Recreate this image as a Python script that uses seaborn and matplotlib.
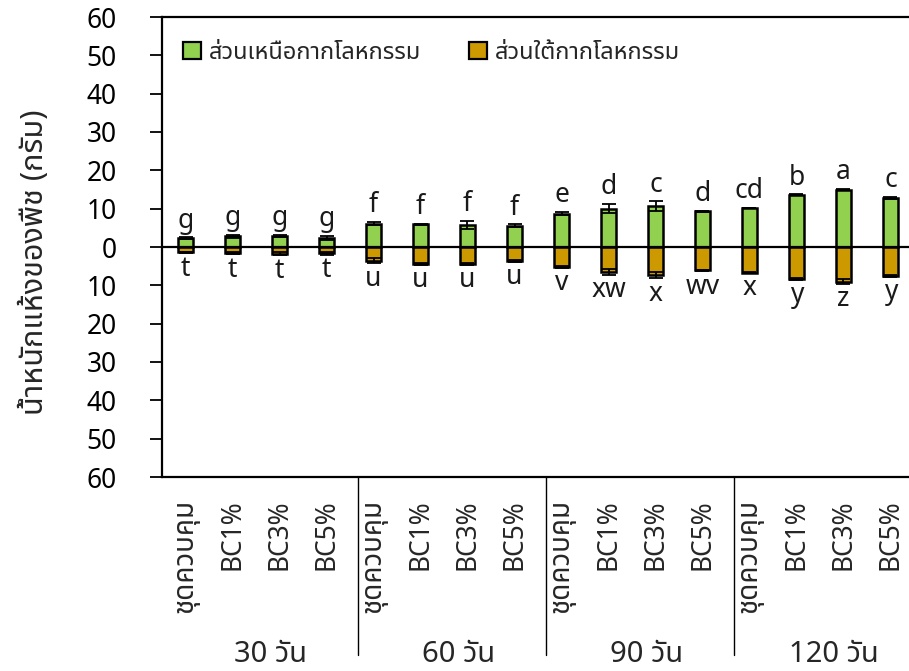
import matplotlib
matplotlib.use("Agg")
import matplotlib.pyplot as plt
from matplotlib.patches import Patch
from matplotlib.ticker import FuncFormatter, MultipleLocator
import numpy as np
import pandas as pd
import seaborn as sns

# ---- data -------------------------------------------------------------
periods = ["30 วัน", "60 วัน", "90 วัน", "120 วัน"]
treatments = ["ชุดควบคุม", "BC1%", "BC3%", "BC5%"]

above_mass = [2.3, 2.8, 2.9, 2.3,
              6.1, 5.9, 5.8, 5.6,
              8.7, 10.0, 10.6, 9.3,
              10.2, 13.6, 15.0, 12.7]
above_err = [0.2, 0.4, 0.3, 0.6,
             0.4, 0.2, 1.1, 0.3,
             0.4, 1.2, 1.3, 0.2,
             0.1, 0.1, 0.2, 0.3]
below_mass = [1.4, 1.6, 1.7, 1.6,
              3.6, 4.4, 4.4, 3.7,
              5.2, 6.5, 7.4, 6.1,
              6.7, 8.3, 9.0, 7.5]
below_err = [0.2, 0.3, 0.5, 0.4,
             0.7, 0.2, 0.2, 0.2,
             0.2, 0.8, 0.8, 0.2,
             0.1, 0.2, 0.6, 0.2]
above_letters = ["g", "g", "g", "g", "f", "f", "f", "f",
                 "e", "d", "c", "d", "cd", "b", "a", "c"]
below_letters = ["t", "t", "t", "t", "u", "u", "u", "u",
                 "v", "xw", "x", "wv", "x", "y", "z", "y"]

legend_labels = ["ส่วนเหนือกากโลหกรรม", "ส่วนใต้กากโลหกรรม"]
y_label = "น้ำหนักแห้งของพืช (กรัม)"

# ---- style ------------------------------------------------------------
GREEN = "#92D050"
GOLD = "#CC9900"
FS = 19          # numbers and latin labels
FS_THAI = 20     # thai category labels
FS_YLAB = 22
FS_GROUP = 21
FS_LEG = 17
SEP_SHIFT = 0.17      # group divider offset (category units)
GROUP_SHIFT = 0.3     # group caption offset (category units)

sns.set_theme(style="white")
plt.rcParams["font.family"] = ["Noto Sans Thai", "Noto Sans", "DejaVu Sans"]
plt.rcParams["axes.unicode_minus"] = False

df = pd.DataFrame({
    "slot": [f"{p}|{t}" for p in periods for t in treatments],
    "above": above_mass,
    "below": [-v for v in below_mass],
})
order = list(df["slot"])

fig = plt.figure(figsize=(9.09, 6.71), dpi=100)
ax = fig.add_axes([162 / 909, 1 - 477 / 671, 752 / 909, 460 / 671])

bar_kw = dict(order=order, width=0.33, edgecolor="black", linewidth=1.8,
              saturation=1, ax=ax, zorder=2)
sns.barplot(data=df, x="slot", y="above", color=GREEN, **bar_kw)
sns.barplot(data=df, x="slot", y="below", color=GOLD, **bar_kw)

xs = np.arange(len(order))
err_kw = dict(fmt="none", ecolor="black", elinewidth=1.3, capsize=5,
              capthick=1.3, zorder=4)
ax.errorbar(xs, df["above"], yerr=above_err, **err_kw)
ax.errorbar(xs, df["below"], yerr=below_err, **err_kw)

# zero line
ax.axhline(0, color="black", lw=1.6, zorder=3)

# significance letters
for x, v, e, s in zip(xs, above_mass, above_err, above_letters):
    ax.annotate(s, (x, v + e), xytext=(0, 2), textcoords="offset points",
                ha="center", va="bottom", fontsize=FS, color="#1a1a1a")
for x, v, e, s in zip(xs, below_mass, below_err, below_letters):
    ax.annotate(s, (x, -(v + e)), xytext=(0, -1), textcoords="offset points",
                ha="center", va="top", fontsize=FS, color="#1a1a1a")

# axes
ax.set_xlim(-0.5, len(order) - 0.5)
ax.set_ylim(-60, 60)
ax.yaxis.set_major_locator(MultipleLocator(10))
ax.yaxis.set_major_formatter(FuncFormatter(lambda v, _: f"{abs(v):.0f}"))
ax.tick_params(axis="y", direction="out", length=8.5, width=1.3,
               colors="black", labelsize=FS, pad=24, left=True)
ax.tick_params(axis="x", length=0, pad=16)
ax.set_xticks(xs)
ax.set_xticklabels(treatments * len(periods), rotation=90, fontsize=FS,
                   va="top", ha="center")
for lab in ax.get_xticklabels():
    if not lab.get_text().startswith("BC"):
        lab.set_fontsize(FS_THAI)
ax.set_xlabel("")
ax.set_ylabel(y_label, fontsize=FS_YLAB)
ax.yaxis.set_label_coords(-0.149, 0.467)

for side in ["left", "top", "bottom"]:
    ax.spines[side].set_visible(True)
    ax.spines[side].set_color("black")
    ax.spines[side].set_linewidth(1.6)
ax.spines["right"].set_visible(False)
ax.grid(False)

# group dividers and captions below the axis
n = len(treatments)
for g in range(1, len(periods)):
    xd = g * n - 0.5 + SEP_SHIFT
    ax.plot([xd, xd], [0, -0.387], transform=ax.get_xaxis_transform(),
            color="black", lw=1.0, clip_on=False)
for g, p in enumerate(periods):
    xc = g * n + (n - 1) / 2 + GROUP_SHIFT
    ax.text(xc, -0.385, p, transform=ax.get_xaxis_transform(),
            ha="center", va="center", fontsize=FS_GROUP)

# legend
handles = [Patch(facecolor=GREEN, edgecolor="black", linewidth=1.6),
           Patch(facecolor=GOLD, edgecolor="black", linewidth=1.6)]
ax.legend(handles, legend_labels, loc="center left",
          bbox_to_anchor=(0.028, 1 - (53 - 17) / 460), ncol=2, frameon=False,
          fontsize=FS_LEG, handlelength=0.76, handleheight=0.76,
          handletextpad=0.35, columnspacing=2.0, borderpad=0, borderaxespad=0)

fig.savefig("out.png", dpi=100)
